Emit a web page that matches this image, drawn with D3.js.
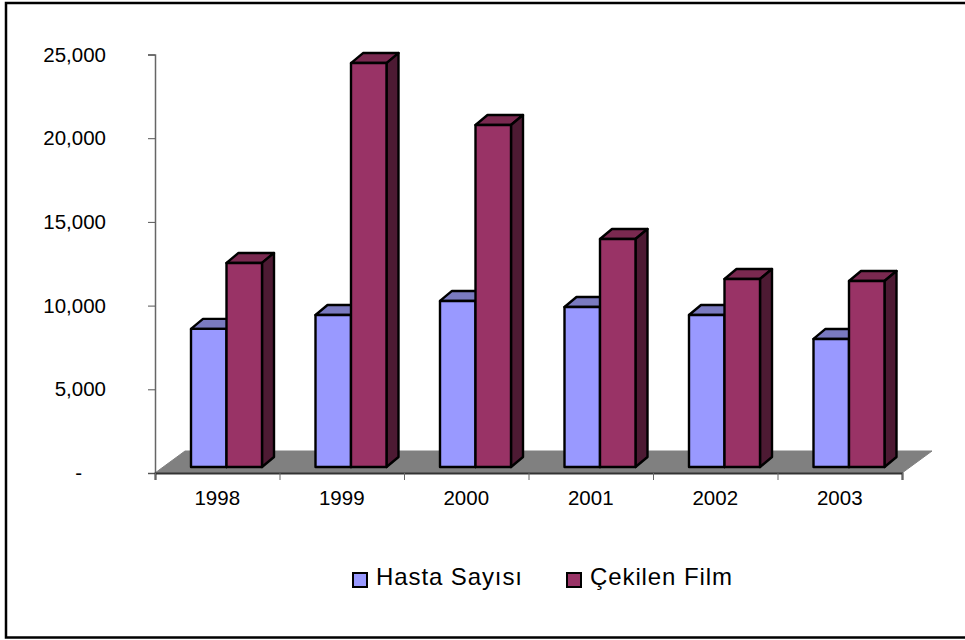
<!DOCTYPE html>
<html>
<head>
<meta charset="utf-8">
<script src="https://cdn.jsdelivr.net/npm/d3@7"></script>
<style>
  body { margin: 0; background: #fff; overflow: hidden; }
  text { font-family: "Liberation Sans", Arial, sans-serif; fill: #000; }
</style>
</head>
<body>
<div id="chart"></div>
<script>
const years = ["1998", "1999", "2000", "2001", "2002", "2003"];
const seriesNames = ["Hasta Sayısı", "Çekilen Film"];
const hastaValues = [8250, 9080, 9920, 9560, 9080, 7650];
const filmValues = [12190, 24130, 20430, 13620, 11230, 11110];
const yTicks = [0, 5000, 10000, 15000, 20000, 25000];

const width = 965;
const height = 640;
const plotLeft = 155, plotRight = 902, plotTop = 54.5, plotBottom = 473;
const floorDx = 30, floorDy = 22;   // 바닥 깊이
const baseDy = 6;                   // 막대가 바닥 앞 모서리에서 들어간 만큼
const depthDx = 12, depthDy = 10;   // 막대 옆면 깊이

const frontColors = ["#9999ff", "#993366"];
const topColors = ["#7a7ac0", "#7a2950"];
const sideColors = ["#5c5c99", "#4d1a33"];

const svg = d3.select("#chart")
    .append("svg")
    .attr("width", width)
    .attr("height", height)
    .style("display", "block");

// 바깥 테두리 (오른쪽은 화면 밖으로 잘림)
svg.append("rect")
    .attr("x", 6).attr("y", 3)
    .attr("width", 1000).attr("height", 634.5)
    .attr("fill", "#fff")
    .attr("stroke", "#000")
    .attr("stroke-width", 2.5);

const y = d3.scaleLinear().domain([0, 25000]).range([plotBottom, plotTop]);
const x0 = d3.scaleBand().domain(years).range([plotLeft, plotRight]);
const x1 = d3.scaleBand().domain(seriesNames).range([36, 107]);

// 바닥
const floor = d3.path();
floor.moveTo(plotLeft, plotBottom);
floor.lineTo(plotLeft + floorDx, plotBottom - floorDy);
floor.lineTo(plotRight + floorDx, plotBottom - floorDy);
floor.lineTo(plotRight, plotBottom);
floor.closePath();
svg.append("path")
    .attr("d", floor.toString())
    .attr("fill", "#808080")
    .attr("stroke", "#808080")
    .attr("stroke-width", 1);

// 축
const yAxis = d3.axisLeft(y)
    .tickValues(yTicks)
    .tickSize(7)
    .tickPadding(42)
    .tickFormat(d => d === 0 ? "-" : d3.format(",")(d));
const yG = svg.append("g")
    .attr("transform", `translate(${plotLeft},0)`)
    .call(yAxis);
yG.select(".domain").attr("stroke", "#666").attr("stroke-width", 1.5);
yG.selectAll(".tick line").attr("stroke", "#555");
yG.selectAll("text")
    .attr("font-size", 20.5)
    .attr("font-family", '"Liberation Sans", Arial, sans-serif')
    .attr("dx", d => d === 0 ? -24 : 0);   // 0 라벨은 "-" 만 왼쪽으로

const xAxis = d3.axisBottom(d3.scaleLinear().domain([0, years.length]).range([plotLeft, plotRight]))
    .ticks(years.length)
    .tickSize(7)
    .tickFormat("");
const xG = svg.append("g")
    .attr("transform", `translate(0,${plotBottom})`)
    .call(xAxis);
xG.select(".domain").attr("stroke", "#333").attr("stroke-width", 2);
xG.selectAll(".tick line").attr("stroke", "#666");

svg.selectAll("text.year")
    .data(years)
    .join("text")
    .attr("class", "year")
    .attr("x", d => x0(d) + x0.bandwidth() / 2)
    .attr("y", 505)
    .attr("text-anchor", "middle")
    .attr("font-size", 20.5)
    .text(d => d);

// 막대
function drawBars(values, name, i) {
    const g = svg.append("g").attr("stroke", "#000").attr("stroke-width", 2.4).attr("stroke-linejoin", "round");
    values.forEach((v, k) => {
        const xl = x0(years[k]) + x1(name);
        const xr = xl + x1.bandwidth();
        const yt = y(v) - baseDy;
        const yb = plotBottom - baseDy;

        g.append("path")
            .attr("d", `M${xl},${yt}L${xl + depthDx},${yt - depthDy}L${xr + depthDx},${yt - depthDy}L${xr},${yt}Z`)
            .attr("fill", topColors[i]);
        g.append("path")
            .attr("d", `M${xr},${yt}L${xr + depthDx},${yt - depthDy}L${xr + depthDx},${yb - depthDy}L${xr},${yb}Z`)
            .attr("fill", sideColors[i]);
        g.append("rect")
            .attr("x", xl)
            .attr("y", yt)
            .attr("width", x1.bandwidth())
            .attr("height", yb - yt)
            .attr("fill", frontColors[i]);
    });
}

drawBars(hastaValues, seriesNames[0], 0);
drawBars(filmValues, seriesNames[1], 1);

// 범례
const legendX = [353, 567];
seriesNames.forEach((name, i) => {
    svg.append("rect")
        .attr("x", legendX[i])
        .attr("y", 573)
        .attr("width", 14)
        .attr("height", 14)
        .attr("fill", frontColors[i])
        .attr("stroke", "#000")
        .attr("stroke-width", 2);
    svg.append("text")
        .attr("x", legendX[i] + 23)
        .attr("y", 585)
        .attr("font-size", 24)
        .attr("letter-spacing", 0.9)
        .text(name);
});
</script>
</body>
</html>
